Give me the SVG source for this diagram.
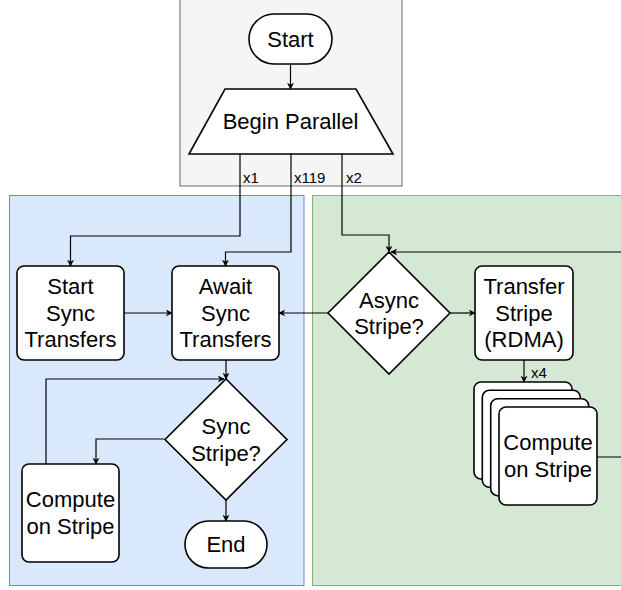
<svg xmlns="http://www.w3.org/2000/svg" width="621" height="590" viewBox="0 0 621 590">
  <style>
    text { font-family: "Liberation Sans", Arial, Helvetica, sans-serif; fill: #000; text-anchor: middle; }
    .lbl { font-size: 22px; }
    .small { font-size: 15px; text-anchor: start; }
    .node { fill: #fff; stroke: #000; stroke-width: 1.6; }
    .edge { fill: none; stroke: #000; stroke-width: 1.2; marker-end: url(#arrow); }
    .plain { fill: none; stroke: #000; stroke-width: 1.2; }
  </style>
  <defs>
    <marker id="arrow" viewBox="0 0 10 10" refX="9" refY="5" markerWidth="7" markerHeight="7" markerUnits="userSpaceOnUse" orient="auto">
      <path d="M0,0 L10,5 L0,10 L3,5 Z" fill="#000"/>
    </marker>
  </defs>

  <!-- swimlane backgrounds -->
  <g id="lanes">
    <rect x="180" y="-2" width="222" height="188" fill="#f5f5f5" stroke="#666" stroke-width="1"/>
    <rect x="9.5" y="195.5" width="294.5" height="390" fill="#dae8fc" stroke="#6c8ebf" stroke-width="1"/>
    <rect x="312.5" y="195.5" width="320" height="390" fill="#d5e8d4" stroke="#82b366" stroke-width="1"/>
  </g>

  <!-- connectors -->
  <g id="connectors">
    <path class="edge" d="M290.5,64 V89"/>
    <path class="edge" d="M240,154 V236 H70.5 V266"/>
    <path class="edge" d="M291,154 V252 H225.5 V266"/>
    <path class="edge" d="M342,154 V235 H389 V252"/>
    <path class="edge" d="M124,313 H172"/>
    <path class="edge" d="M328,313 H279"/>
    <path class="edge" d="M450,313 H475"/>
    <path class="edge" d="M524,360 V382"/>
    <path class="edge" d="M597,457 H640 V252 H391"/>
    <path class="edge" d="M226,360 V379"/>
    <path class="edge" d="M164,439 H96 V464"/>
    <path class="edge" d="M46,464 V379 H224"/>
    <path class="edge" d="M226,500 V521"/>
    <text class="small" x="243" y="183">x1</text>
    <text class="small" x="294" y="183">x119</text>
    <text class="small" x="346" y="183">x2</text>
    <text class="small" x="531" y="378">x4</text>
  </g>

  <g id="start">
    <rect class="node" x="249" y="14" width="83" height="50" rx="25"/>
    <text class="lbl" x="290.5" y="47">Start</text>
  </g>

  <g id="begin-parallel">
    <polygon class="node" points="225,89 356,89 393,154 189,154"/>
    <text class="lbl" x="290.5" y="129">Begin Parallel</text>
  </g>

  <g id="start-sync">
    <rect class="node" x="17" y="266" width="107" height="94" rx="7"/>
    <text class="lbl" x="70.5" y="294">Start</text>
    <text class="lbl" x="70.5" y="320.5">Sync</text>
    <text class="lbl" x="70.5" y="347">Transfers</text>
  </g>

  <g id="await-sync">
    <rect class="node" x="172" y="266" width="107" height="94" rx="7"/>
    <text class="lbl" x="225.5" y="294">Await</text>
    <text class="lbl" x="225.5" y="320.5">Sync</text>
    <text class="lbl" x="225.5" y="347">Transfers</text>
  </g>

  <g id="async-stripe">
    <polygon class="node" points="389,252 450,313 389,374 328,313"/>
    <text class="lbl" x="389" y="307.5">Async</text>
    <text class="lbl" x="389" y="334">Stripe?</text>
  </g>

  <g id="transfer-stripe">
    <rect class="node" x="475" y="266" width="98" height="94" rx="7"/>
    <text class="lbl" x="524" y="294">Transfer</text>
    <text class="lbl" x="524" y="320.5">Stripe</text>
    <text class="lbl" x="524" y="347">(RDMA)</text>
  </g>

  <g id="compute-async">
    <rect class="node" x="474" y="382" width="98" height="97" rx="7"/>
    <rect class="node" x="482.3" y="390.3" width="98" height="97" rx="7"/>
    <rect class="node" x="490.7" y="398.7" width="98" height="97" rx="7"/>
    <rect class="node" x="499" y="407" width="98" height="98" rx="7"/>
    <text class="lbl" x="548" y="450">Compute</text>
    <text class="lbl" x="548" y="477">on Stripe</text>
  </g>

  <g id="sync-stripe">
    <polygon class="node" points="226,379 287,439.5 226,500 165,439.5"/>
    <text class="lbl" x="226" y="434">Sync</text>
    <text class="lbl" x="226" y="460.5">Stripe?</text>
  </g>

  <g id="compute-sync">
    <rect class="node" x="22" y="464" width="97" height="98" rx="7"/>
    <text class="lbl" x="70.5" y="507">Compute</text>
    <text class="lbl" x="70.5" y="533.5">on Stripe</text>
  </g>

  <g id="end">
    <rect class="node" x="185" y="521" width="82" height="47" rx="23.5"/>
    <text class="lbl" x="226" y="552">End</text>
  </g>
</svg>
